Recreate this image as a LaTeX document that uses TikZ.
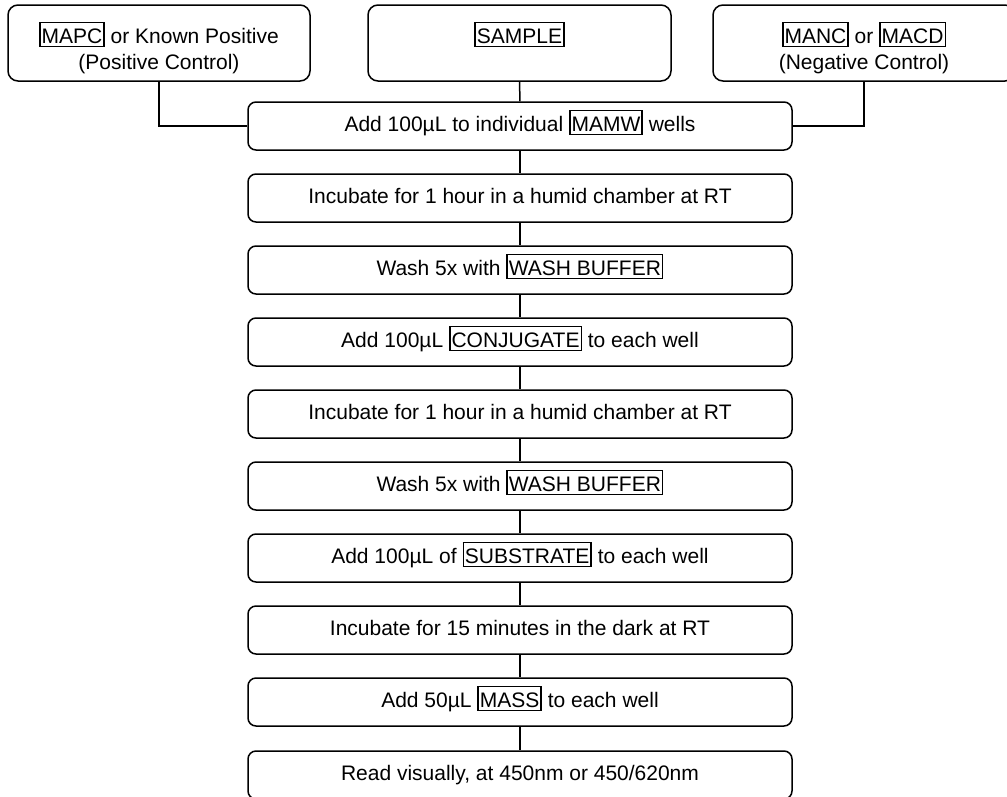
\documentclass[tikz,border=0pt]{standalone}
\usepackage{fontspec}
\setmainfont{Liberation Sans}
\setlength\fboxsep{1pt}
\setlength\fboxrule{1.5pt}
\newcommand\bx[1]{\fbox{\rule[-1.7pt]{0pt}{20.3pt}#1}}
\begin{document}
\begin{tikzpicture}[x=1pt,y=-1pt,
  every node/.style={font=\fontsize{21}{26}\selectfont},
  topbox/.style={draw, line width=1.5pt, rounded corners=10pt, minimum width=302pt, minimum height=76pt, inner sep=0pt},
  stepbox/.style={draw, line width=1.5pt, rounded corners=8pt, minimum width=544pt, minimum height=48pt, inner sep=0pt},
  txt/.style={anchor=base, inner sep=0pt},
  link/.style={line width=1.5pt}]
\useasboundingbox[fill=white] (0,0) rectangle (1007,796);
% top boxes
\node[topbox] (pc) at (159,43) {};
\node[topbox, minimum width=303pt] (sm) at (519.5,43) {};
\node[topbox] (nc) at (864,43) {};
\node[txt] (pc1) at (159,43) {\bx{MAPC} or Known Positive};
\node[txt] (pc2) at (159,69) {(Positive Control)};
\node[txt] (sm1) at (519.5,43) {\bx{SAMPLE}};
\node[txt] (nc1) at (864,43) {\bx{MANC} or \bx{MACD}};
\node[txt] (nc2) at (864,69) {(Negative Control)};
% steps
\node[stepbox] (s1) at (520,126) {};
\node[stepbox] (s2) at (520,198) {};
\node[stepbox] (s3) at (520,270) {};
\node[stepbox] (s4) at (520,342) {};
\node[stepbox] (s5) at (520,414) {};
\node[stepbox] (s6) at (520,486) {};
\node[stepbox] (s7) at (520,558) {};
\node[stepbox] (s8) at (520,630) {};
\node[stepbox] (s9) at (520,702) {};
\node[stepbox] (s10) at (520,775) {};
\node[txt] (t1) at (520,131) {Add 100µL to individual \bx{MAMW} wells};
\node[txt] (t2) at (520,203) {Incubate for 1 hour in a humid chamber at RT};
\node[txt] (t3) at (520,275) {Wash 5x with \bx{WASH BUFFER}};
\node[txt] (t4) at (520,347) {Add 100µL \bx{CONJUGATE} to each well};
\node[txt] (t5) at (520,419) {Incubate for 1 hour in a humid chamber at RT};
\node[txt] (t6) at (520,491) {Wash 5x with \bx{WASH BUFFER}};
\node[txt] (t7) at (520,563) {Add 100µL of \bx{SUBSTRATE} to each well};
\node[txt] (t8) at (520,635) {Incubate for 15 minutes in the dark at RT};
\node[txt] (t9) at (520,707) {Add 50µL \bx{MASS} to each well};
\node[txt] (t10) at (520,780) {Read visually, at 450nm or 450/620nm};
% connectors
\draw[link] (pc.south) |- (s1.west);
\draw[link] (nc.south) |- (s1.east);
\draw[link] (sm.south) -- (s1.north);
\draw[link] (s1.south) -- (s2.north);
\draw[link] (s2.south) -- (s3.north);
\draw[link] (s3.south) -- (s4.north);
\draw[link] (s4.south) -- (s5.north);
\draw[link] (s5.south) -- (s6.north);
\draw[link] (s6.south) -- (s7.north);
\draw[link] (s7.south) -- (s8.north);
\draw[link] (s8.south) -- (s9.north);
\draw[link] (s9.south) -- (s10.north);
\end{tikzpicture}
\end{document}
